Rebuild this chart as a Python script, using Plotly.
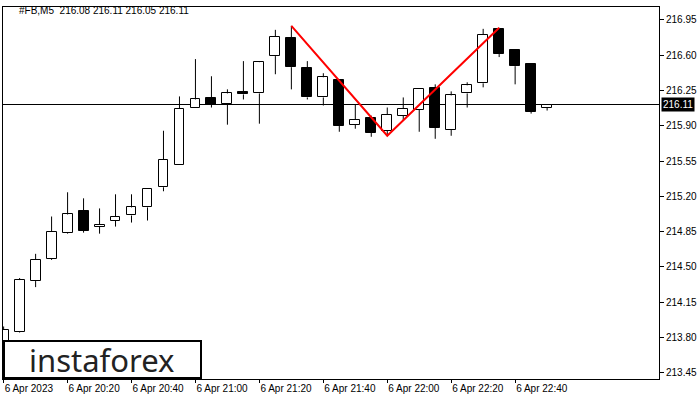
import plotly.graph_objects as go

# ---- data (5-minute candles, 6 Apr 2023 20:00 .. 22:50) ----
idx = list(range(35))
opens = [213.72, 213.86, 214.36, 214.58, 214.84, 215.05, 214.90, 214.96, 215.01, 215.09,
         215.29, 215.51, 216.08, 216.17, 216.12, 216.23, 216.22, 216.59, 216.77, 216.47,
         216.18, 216.35, 215.91, 215.98, 215.85, 216.00, 216.06, 216.27, 215.86, 216.22,
         216.32, 216.86, 216.65, 216.51, 216.08]
highs = [213.91, 214.39, 214.63, 215.00, 215.24, 215.18, 215.08, 215.22, 215.22, 215.27,
         215.85, 216.19, 216.56, 216.39, 216.26, 216.54, 216.54, 216.85, 216.89, 216.54,
         216.42, 216.35, 216.11, 216.00, 216.08, 216.18, 216.26, 216.31, 216.24, 216.33,
         216.86, 216.87, 216.65, 216.51, 216.11]
lows = [213.70, 213.85, 214.30, 214.57, 214.83, 214.84, 214.83, 214.90, 214.94, 214.96,
        215.25, 215.51, 216.08, 216.08, 215.91, 216.16, 215.92, 216.41, 216.26, 216.16,
        216.10, 215.84, 215.87, 215.79, 215.80, 215.95, 215.84, 215.77, 215.80, 216.08,
        216.28, 216.58, 216.31, 216.02, 216.05]
closes = [213.88, 214.37, 214.57, 214.85, 215.02, 214.86, 214.92, 215.00, 215.09, 215.27,
          215.56, 216.07, 216.16, 216.11, 216.22, 216.21, 216.53, 216.78, 216.48, 216.18,
          216.38, 215.90, 215.96, 215.83, 216.01, 216.07, 216.26, 215.88, 216.20, 216.30,
          216.80, 216.61, 216.49, 216.04, 216.11]

# double-top pattern (red polyline)
pattern_x = [18, 24, 31]
pattern_y = [216.89, 215.80, 216.87]

current_price = 216.11
title_text = "#FB,M5  216.08 216.11 216.05 216.11"

x_tickvals = [0, 4, 8, 12, 16, 20, 24, 28, 32]
x_ticktext = ["6 Apr 2023", "6 Apr 20:20", "6 Apr 20:40", "6 Apr 21:00", "6 Apr 21:20",
              "6 Apr 21:40", "6 Apr 22:00", "6 Apr 22:20", "6 Apr 22:40"]
y_tickvals = [213.45, 213.80, 214.15, 214.50, 214.85, 215.20, 215.55, 215.90,
              216.25, 216.60, 216.95]
y_ticktext = ["213.45", "213.80", "214.15", "214.50", "214.85", "215.20", "215.55",
              "215.90", "216.25", "216.60", "216.95"]

# ---- build figure ----
W, H = 700, 400
ML, MR, MT, MB = 3, 41, 7, 21

fig = go.Figure()

# wicks (upper and lower segments, so white bodies stay clean)
wx, wy = [], []
for i, o, h, l, c in zip(idx, opens, highs, lows, closes):
    top, bot = max(o, c), min(o, c)
    if h > top:
        wx += [i, i, None]
        wy += [top, h, None]
    if l < bot:
        wx += [i, i, None]
        wy += [l, bot, None]
fig.add_trace(go.Scatter(x=wx, y=wy, mode="lines", line=dict(color="black", width=1),
                         hoverinfo="skip", showlegend=False))

# bodies
bases = [min(o, c) for o, c in zip(opens, closes)]
heights = [max(abs(c - o), 0.004) for o, c in zip(opens, closes)]
fills = ["white" if c >= o else "black" for o, c in zip(opens, closes)]
fig.add_trace(go.Bar(x=idx, y=heights, base=bases, width=0.62,
                     marker=dict(color=fills, line=dict(color="black", width=1)),
                     showlegend=False, hoverinfo="skip"))

# pattern line
fig.add_trace(go.Scatter(x=pattern_x, y=pattern_y, mode="lines",
                         line=dict(color="#ff0000", width=2), showlegend=False,
                         hoverinfo="skip"))

# current price line
fig.add_shape(type="line", xref="paper", yref="y", x0=0, x1=1,
              y0=current_price, y1=current_price,
              line=dict(color="black", width=1), layer="below")

pw = W - ML - MR
ph = H - MT - MB

def px_x(p):
    return (p - ML) / pw

def px_y(p):
    return (H - MB - p) / ph

# logo box
fig.add_shape(type="rect", xref="paper", yref="paper",
              x0=px_x(4), x1=px_x(201), y0=px_y(378), y1=px_y(341),
              line=dict(color="black", width=2), fillcolor="white", layer="above")
fig.add_annotation(xref="paper", yref="paper", x=px_x(101), y=px_y(360),
                   text="instaforex", showarrow=False, xanchor="center", yanchor="middle",
                   font=dict(family="Noto Sans", size=31, color="#222222"))

# title
fig.add_annotation(xref="paper", yref="paper", x=px_x(17), y=px_y(11),
                   text=title_text, showarrow=False, xanchor="left", yanchor="middle",
                   font=dict(family="Liberation Sans, Arial", size=10, color="black"))

# price label
fig.add_annotation(xref="paper", yref="y", x=1, y=current_price, xanchor="left",
                   yanchor="middle", xshift=2, text="216.11", showarrow=False,
                   bgcolor="black", font=dict(family="Liberation Sans, Arial", size=10,
                                               color="white"),
                   borderpad=1)

fig.update_layout(
    width=W, height=H,
    margin=dict(l=ML, r=MR, t=MT, b=MB, pad=0, autoexpand=False),
    paper_bgcolor="white", plot_bgcolor="white",
    bargap=0,
    xaxis=dict(range=[-0.04, 41.0], showgrid=False, zeroline=False,
               showline=True, mirror=True, linecolor="black", linewidth=1,
               tickvals=x_tickvals, ticktext=x_ticktext, ticks="outside", ticklen=3,
               tickcolor="black", ticklabelposition="outside right",
               tickfont=dict(family="Liberation Sans, Arial", size=10, color="black"),
               fixedrange=True, automargin=False),
    yaxis=dict(range=[213.3894, 217.0764], side="right", showgrid=False, zeroline=False,
               showline=True, mirror=True, linecolor="black", linewidth=1,
               tickvals=y_tickvals, ticktext=y_ticktext, ticks="outside", ticklen=4,
               tickcolor="black",
               tickfont=dict(family="Liberation Sans, Arial", size=10, color="black"),
               fixedrange=True, automargin=False),
    font=dict(family="Liberation Sans, Arial"),
)

fig.write_html("out.html", config={"displayModeBar": False},
               post_script="document.body.style.margin='0';document.body.style.padding='0';")
